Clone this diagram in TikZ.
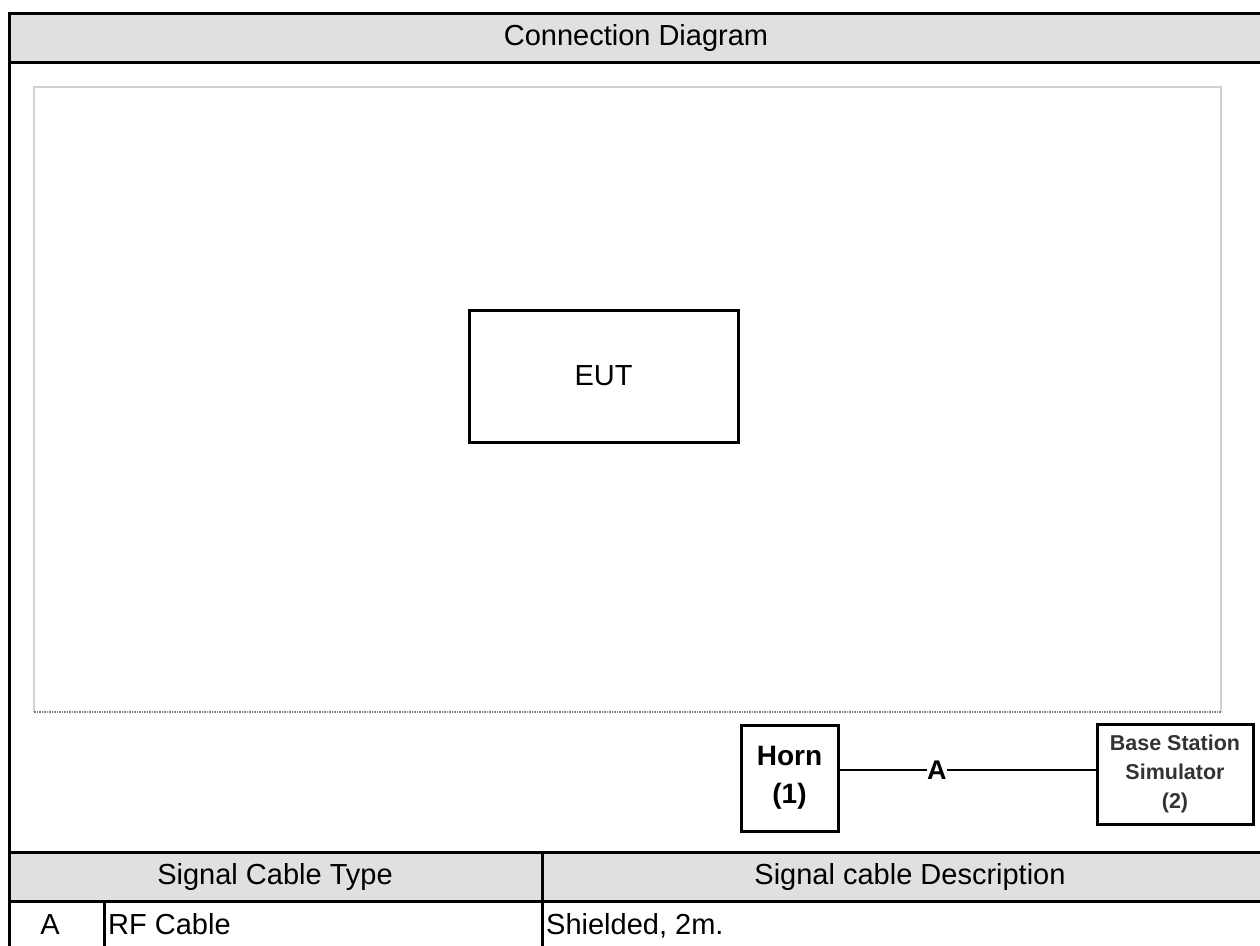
\documentclass[tikz,border=0pt]{standalone}
\usepackage{fontspec}
\setmainfont{Liberation Sans}
\definecolor{hdrgray}{HTML}{E0E0E0}
\definecolor{panelgray}{HTML}{D2D2D2}
\begin{document}
\begin{tikzpicture}[x=1pt,y=-1pt,
  tline/.style={line width=3pt, black},
  hdrfill/.style={fill=hdrgray},
  devbox/.style={draw, line width=3pt, inner sep=0pt, align=center},
  wire/.style={line width=2.5pt},
  bigtxt/.style={font=\fontsize{29}{34}\selectfont},
]
\useasboundingbox (0,0) rectangle (1260,945);
% header fills
\fill[hdrfill] (9,13) rectangle (1265,62);
\fill[hdrfill] (9,852) rectangle (1265,901);
% table lines
\draw[tline] (1265,13) -- (9,13) -- (9,950);
\draw[tline] (9,62) -- (1265,62);
\draw[tline] (9,852) -- (1265,852);
\draw[tline] (9,901) -- (1265,901);
\draw[tline] (542,852) -- (542,950);
\draw[tline] (104,901) -- (104,950);
% inner panel
\draw[panelgray, line width=2pt] (1221,712) -- (1221,87) -- (34,87) -- (34,712);
\draw[gray, line width=1.5pt, densely dotted] (34,712) -- (1221,712);
% texts
\node[bigtxt] (title) at (636,38) {Connection Diagram};
\node[bigtxt] (hcol1) at (275,877) {Signal Cable Type};
\node[bigtxt] (hcol2) at (910,877) {Signal cable Description};
\node[bigtxt, anchor=base, inner sep=0pt] (rowA) at (50,934) {A};
\node[bigtxt, anchor=base west, inner sep=0pt] (rowRF) at (108,934) {RF Cable};
\node[bigtxt, anchor=base west, inner sep=0pt] (rowSh) at (546,934) {Shielded, 2m.};
% devices
\node[devbox, minimum width=269pt, minimum height=132pt, font=\fontsize{29}{32}\selectfont] (eut) at (603.5,376) {EUT};
\node[devbox, minimum width=97pt, minimum height=106pt, font=\fontsize{28}{38}\selectfont\bfseries] (horn) at (789.5,778) {Horn\\(1)};
\node[devbox, minimum width=156pt, minimum height=100pt, font=\fontsize{21.5}{29}\selectfont\bfseries, text=black!80] (bss) at (1175,774) {Base Station\\Simulator\\(2)};
% cable
\draw[wire] (horn.east |- 0,770) -- (bss.west |- 0,770)
  node[pos=0.38, fill=white, inner sep=0.5pt, font=\fontsize{27}{30}\selectfont\bfseries] (lblA) {A};
\end{tikzpicture}
\end{document}
